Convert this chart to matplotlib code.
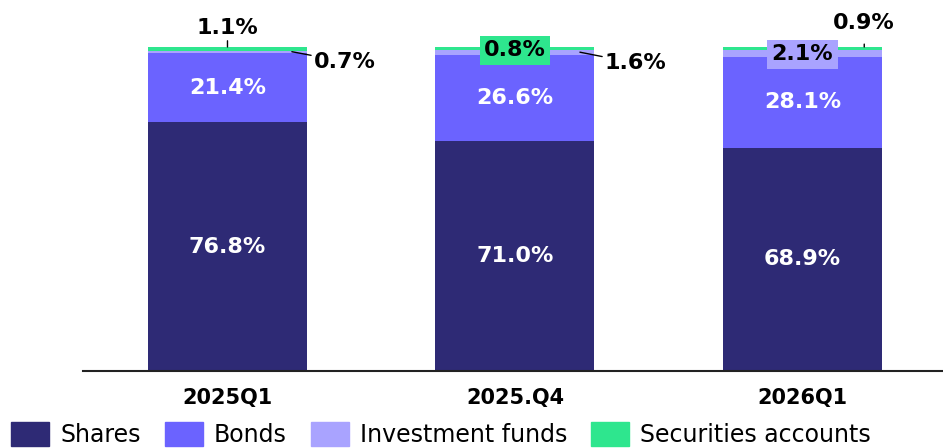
import matplotlib
matplotlib.use("Agg")
import matplotlib.pyplot as plt
import numpy as np

# data (percent of total)
quarters = ["2025Q1", "2025.Q4", "2026Q1"]
shares = [76.8, 71.0, 68.9]
bonds = [21.4, 26.6, 28.1]
inv_funds = [0.7, 1.6, 2.1]
securities = [1.1, 0.8, 0.9]

series_names = ["Shares", "Bonds", "Investment funds", "Securities accounts"]
colors = ["#2E2A75", "#6B63FF", "#A9A3FF", "#2EE68E"]

plt.rcParams['font.family'] = ['DejaVu Sans']

fig = plt.figure(figsize=(9.43, 4.48), dpi=100)
ax = fig.add_axes([83/943, 77/448, 860/943, 324/448])

x = np.arange(len(quarters))
w = 0.553
values = [shares, bonds, inv_funds, securities]
bottom = np.zeros(len(quarters))
for vals, name, c in zip(values, series_names, colors):
    ax.bar(x, vals, w, bottom=bottom, color=c, label=name, edgecolor='none')
    bottom = bottom + np.array(vals)

ax.set_xlim(-0.5026, 2.489)
ax.set_ylim(0, 100)

# white labels inside the two big segments
for i in range(len(quarters)):
    ax.text(x[i], shares[i] / 2, f"{shares[i]:.1f}%", ha='center', va='center',
            color='white', fontsize=16, fontweight='bold')
    ax.text(x[i], shares[i] + bonds[i] / 2, f"{bonds[i]:.1f}%", ha='center', va='center',
            color='white', fontsize=16, fontweight='bold')

lab = dict(fontsize=16, fontweight='bold', color='black', annotation_clip=False)
line = dict(arrowstyle='-', color='black', lw=1, shrinkA=0, shrinkB=0)

# 2025Q1
top0 = shares[0] + bonds[0] + inv_funds[0] + securities[0]
ax.annotate(f"{securities[0]:.1f}%", xy=(x[0], top0), xytext=(0, 19),
            textcoords='offset pixels', ha='center', va='center', **lab,
            arrowprops=dict(arrowstyle='-', color='black', lw=1, shrinkA=5, shrinkB=0))
mid_if0 = shares[0] + bonds[0] + inv_funds[0] / 2
ax.annotate(f"{inv_funds[0]:.1f}%", xy=(x[0] + 0.224, mid_if0), xytext=(22, -10),
            textcoords='offset pixels', ha='left', va='center', **lab, arrowprops=line)

# 2025.Q4
mid_sec1 = shares[1] + bonds[1] + inv_funds[1] + securities[1] / 2
ax.annotate(f"{securities[1]:.1f}%", xy=(x[1], mid_sec1), xytext=(0, -2),
            textcoords='offset pixels', ha='center', va='center', **lab,
            bbox=dict(boxstyle='square,pad=0.2', fc=colors[3], ec='none'))
mid_if1 = shares[1] + bonds[1] + inv_funds[1] / 2
ax.annotate(f"{inv_funds[1]:.1f}%", xy=(x[1] + 0.226, mid_if1), xytext=(25, -11),
            textcoords='offset pixels', ha='left', va='center', **lab, arrowprops=line)

# 2026Q1
mid_if2 = shares[2] + bonds[2] + inv_funds[2] / 2
ax.annotate(f"{inv_funds[2]:.1f}%", xy=(x[2], mid_if2), xytext=(0, -1),
            textcoords='offset pixels', ha='center', va='center', **lab,
            bbox=dict(boxstyle='square,pad=0.2', fc=colors[2], ec='none'))
top2 = shares[2] + bonds[2] + inv_funds[2] + securities[2]
ax.annotate(f"{securities[2]:.1f}%", xy=(x[2] + 0.215, top2), xytext=(0, 24),
            textcoords='offset pixels', ha='center', va='center', **lab,
            arrowprops=dict(arrowstyle='-', color='black', lw=1, shrinkA=6, shrinkB=0))

for s in ['left', 'right', 'top']:
    ax.spines[s].set_visible(False)
ax.spines['bottom'].set_color('#222222')
ax.spines['bottom'].set_linewidth(1.5)
ax.set_yticks([])
ax.set_xticks(x)
ax.set_xticklabels(quarters, fontsize=15, fontweight='bold')
ax.tick_params(axis='x', length=0, pad=12)

handles = [plt.Rectangle((0, 0), 1, 1, color=c) for c in colors]
fig.legend(handles, series_names, loc='lower left', bbox_to_anchor=(11/943, 1/448),
           ncol=4, frameon=False, fontsize=17, handlelength=1.61, handleheight=1.15,
           handletextpad=0.47, columnspacing=1.02, borderpad=0, borderaxespad=0)

fig.savefig("out.png", dpi=100)
